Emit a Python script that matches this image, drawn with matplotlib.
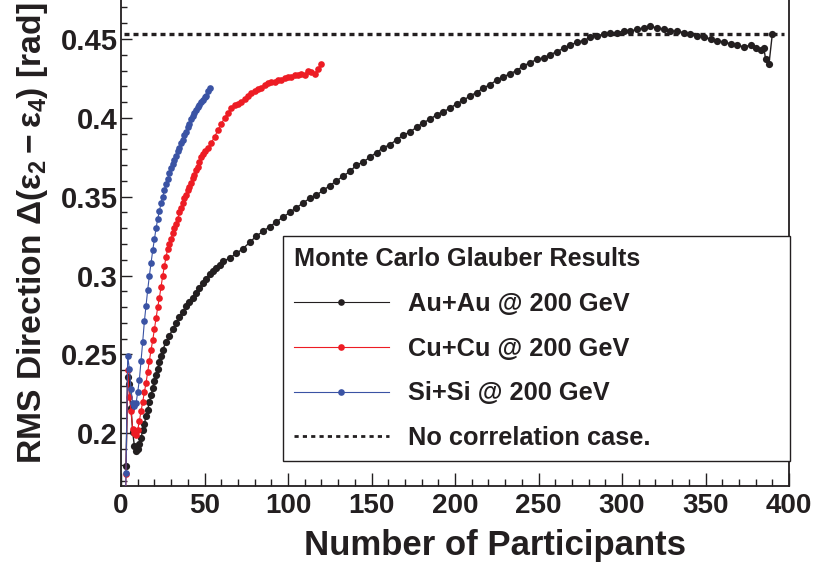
import matplotlib
matplotlib.use("Agg")
import matplotlib.pyplot as plt
from matplotlib.lines import Line2D
from matplotlib.ticker import MultipleLocator, FixedFormatter, FixedLocator

plt.rcParams['font.family'] = ['Liberation Sans', 'DejaVu Sans']
plt.rcParams['font.weight'] = 'bold'
plt.rcParams['axes.labelweight'] = 'bold'
plt.rcParams['mathtext.fontset'] = 'custom'
plt.rcParams['mathtext.rm'] = 'Liberation Sans:bold'
plt.rcParams['mathtext.it'] = 'Liberation Sans:bold'
plt.rcParams['mathtext.bf'] = 'Liberation Sans:bold'
plt.rcParams['mathtext.sf'] = 'Liberation Sans:bold'

# ---------------- data ----------------
auau_npart = [3, 4, 5, 6, 7, 8, 9, 10, 11, 12, 13, 14, 15, 16, 17, 18, 19, 20,
              21, 22, 23, 24, 25, 27, 29, 31, 33, 35, 37, 39, 41, 43, 45, 47,
              49, 51, 53, 55, 57, 59, 61, 65, 69, 73, 77, 81, 85, 89, 93, 97,
              101, 105, 109, 113, 117, 121, 125, 129, 133, 137, 141, 145, 149,
              153, 157, 161, 165, 169, 173, 177, 181, 185, 189, 193, 197, 201,
              205, 209, 213, 217, 221, 225, 229, 233, 237, 241, 245, 249, 253,
              257, 261, 265, 269, 273, 277, 281, 285, 289, 293, 297, 301, 305,
              309, 313, 317, 321, 325, 329, 333, 337, 341, 345, 349, 353, 357,
              361, 365, 369, 373, 377, 380, 383, 385, 386, 388, 390]
auau_rms = [0.179, 0.236, 0.231, 0.216, 0.201, 0.192, 0.189, 0.190, 0.193, 0.197,
            0.202, 0.206, 0.211, 0.215, 0.220, 0.224, 0.229, 0.233, 0.237, 0.241,
            0.245, 0.249, 0.253, 0.258, 0.262, 0.266, 0.270, 0.274, 0.277, 0.281,
            0.283, 0.286, 0.289, 0.292, 0.295, 0.298, 0.301, 0.303, 0.305, 0.307,
            0.309, 0.311, 0.314, 0.317, 0.321, 0.325, 0.328, 0.331, 0.334, 0.337,
            0.340, 0.343, 0.346, 0.349, 0.351, 0.354, 0.357, 0.360, 0.363, 0.366,
            0.370, 0.372, 0.375, 0.378, 0.381, 0.383, 0.386, 0.389, 0.391, 0.394,
            0.397, 0.399, 0.402, 0.404, 0.406, 0.409, 0.411, 0.414, 0.416, 0.419,
            0.421, 0.424, 0.426, 0.428, 0.430, 0.433, 0.435, 0.437, 0.438, 0.440,
            0.442, 0.444, 0.446, 0.448, 0.449, 0.451, 0.452, 0.453, 0.454, 0.454,
            0.455, 0.455, 0.456, 0.457, 0.458, 0.457, 0.456, 0.455, 0.455, 0.454,
            0.453, 0.452, 0.451, 0.450, 0.449, 0.448, 0.447, 0.446, 0.445, 0.446,
            0.444, 0.443, 0.444, 0.437, 0.434, 0.453]

cucu_npart = [2, 3, 4, 5, 6, 7, 8, 9, 10, 11, 12, 13, 14, 15, 16, 17, 18, 19, 20,
              21, 22, 23, 24, 25, 26, 27, 28, 29, 30, 31, 32, 33, 34, 35, 36, 37,
              38, 39, 40, 41, 42, 43, 44, 45, 46, 47, 48, 49, 50, 52, 54, 56, 58,
              60, 62, 64, 66, 68, 70, 72, 74, 76, 78, 80, 82, 84, 86, 88, 90, 92,
              94, 96, 98, 100, 102, 104, 106, 108, 110, 112, 114, 116, 118, 120]
cucu_rms = [0.100, 0.174, 0.240, 0.223, 0.214, 0.203, 0.200, 0.199, 0.202, 0.208,
            0.214, 0.220, 0.226, 0.232, 0.239, 0.246, 0.253, 0.259, 0.266, 0.273,
            0.280, 0.286, 0.293, 0.300, 0.306, 0.312, 0.317, 0.320, 0.323, 0.327,
            0.330, 0.333, 0.336, 0.340, 0.343, 0.346, 0.349, 0.351, 0.354, 0.356,
            0.359, 0.362, 0.364, 0.367, 0.369, 0.372, 0.375, 0.377, 0.379, 0.381,
            0.384, 0.388, 0.392, 0.396, 0.400, 0.403, 0.406, 0.408, 0.409, 0.410,
            0.412, 0.414, 0.416, 0.417, 0.418, 0.419, 0.421, 0.422, 0.423, 0.423,
            0.424, 0.424, 0.425, 0.426, 0.426, 0.427, 0.427, 0.428, 0.427, 0.430,
            0.429, 0.428, 0.431, 0.434]

sisi_npart = [2, 3, 4, 5, 6, 7, 8, 9, 10, 11, 12, 13, 14, 15, 16, 17, 18, 19, 20,
              21, 22, 23, 24, 25, 26, 27, 28, 29, 30, 31, 32, 33, 34, 35, 36, 37,
              38, 39, 40, 41, 42, 43, 44, 45, 46, 47, 48, 49, 50, 51, 52, 53]
sisi_rms = [0.100, 0.175, 0.249, 0.241, 0.228, 0.219, 0.217, 0.219, 0.226, 0.234,
            0.246, 0.258, 0.271, 0.281, 0.291, 0.300, 0.308, 0.316, 0.323, 0.330,
            0.336, 0.341, 0.346, 0.350, 0.354, 0.358, 0.361, 0.365, 0.368, 0.371,
            0.373, 0.376, 0.379, 0.381, 0.384, 0.386, 0.389, 0.391, 0.394, 0.396,
            0.399, 0.401, 0.403, 0.405, 0.407, 0.408, 0.410, 0.411, 0.413, 0.414,
            0.417, 0.419]

no_corr_value = 0.4534

labels = ["Au+Au @ 200 GeV", "Cu+Cu @ 200 GeV", "Si+Si @ 200 GeV",
          "No correlation case."]
legend_title = "Monte Carlo Glauber Results"
x_ticks = [0, 50, 100, 150, 200, 250, 300, 350, 400]
y_ticks = [0.2, 0.25, 0.3, 0.35, 0.4, 0.45]
y_tick_labels = ["0.2", "0.25", "0.3", "0.35", "0.4", "0.45"]

# ---------------- plot ----------------
BLACK = '#231f20'
RED = '#ed1c24'
BLUE = '#3a53a4'

W, H = 816, 569
fig = plt.figure(figsize=(W / 100, H / 100), dpi=100)
ax = fig.add_axes([121 / W, 1 - 486 / H, (789 - 121) / W, 486 / H])

ms = 4.8
lw = 0.8
ax.plot(auau_npart, auau_rms, '-o', color=BLACK, ms=ms + 0.4, lw=1.0, mew=0, zorder=3)
ax.plot(cucu_npart, cucu_rms, '-o', color=RED, ms=ms, lw=lw, mew=0, zorder=4)
ax.plot(sisi_npart, sisi_rms, '-o', color=BLUE, ms=ms, lw=lw, mew=0, zorder=5)
ax.axhline(no_corr_value, xmin=0.005, xmax=0.992, color=BLACK, lw=2.4,
           ls=(0, (1.5, 1.2)), zorder=2)

ax.set_xlim(0, 400)
ax.set_ylim(0.1666, 0.4747)

ax.xaxis.set_major_locator(FixedLocator(x_ticks))
ax.xaxis.set_minor_locator(MultipleLocator(10))
ax.yaxis.set_major_locator(FixedLocator(y_ticks))
ax.yaxis.set_major_formatter(FixedFormatter(y_tick_labels))
ax.yaxis.set_minor_locator(MultipleLocator(0.01))

ax.tick_params(axis='x', which='major', direction='in', length=9.5, width=1,
               labelsize=20, pad=5, color=BLACK, labelcolor=BLACK)
ax.tick_params(axis='x', which='minor', direction='in', length=5, width=1,
               color=BLACK)
ax.tick_params(axis='y', which='major', direction='in', length=8, width=1,
               labelsize=21, pad=2.5, color=BLACK, labelcolor=BLACK)
ax.tick_params(axis='y', which='minor', direction='in', length=4, width=1,
               color=BLACK)
ax.tick_params(right=False, top=False, which='both')

ax.spines['top'].set_visible(False)
for s in ['left', 'bottom', 'right']:
    ax.spines[s].set_linewidth(1.3)
    ax.spines[s].set_color(BLACK)

ax.set_xlabel("Number of Participants", fontsize=25, fontweight='bold', color=BLACK)
ax.xaxis.set_label_coords(0.56, -0.088)
ax.set_ylabel(r"RMS Direction $\Delta(\varepsilon_{2}-\varepsilon_{4})$ [rad]",
              fontsize=24.2, fontweight='bold', color=BLACK)
ax.yaxis.set_label_coords(-0.107, 0.52)

handles = [
    Line2D([], [], color=BLACK, marker='o', ms=ms, lw=lw, mew=0),
    Line2D([], [], color=RED, marker='o', ms=ms, lw=lw, mew=0),
    Line2D([], [], color=BLUE, marker='o', ms=ms, lw=lw, mew=0),
    Line2D([], [], color=BLACK, lw=2.0, ls=(0, (1.5, 1.5))),
]
x0 = 283 / W
y0 = 1 - 461 / H
leg = fig.legend(handles, labels, title=legend_title,
                 loc='lower left',
                 bbox_to_anchor=(x0, y0, (790 - 283) / W, (461 - 237) / H),
                 mode='expand', fontsize=18.3, title_fontsize=18.2, frameon=True,
                 fancybox=False, edgecolor=BLACK, framealpha=1,
                 handlelength=3.75, handletextpad=0.75, labelspacing=0.82,
                 borderpad=0.42, borderaxespad=0, alignment='left')
leg.get_frame().set_linewidth(1.0)
leg.get_title().set_fontweight('bold')
leg.get_title().set_color(BLACK)
for t in leg.get_texts():
    t.set_color(BLACK)

fig.savefig("out.png", dpi=100)
